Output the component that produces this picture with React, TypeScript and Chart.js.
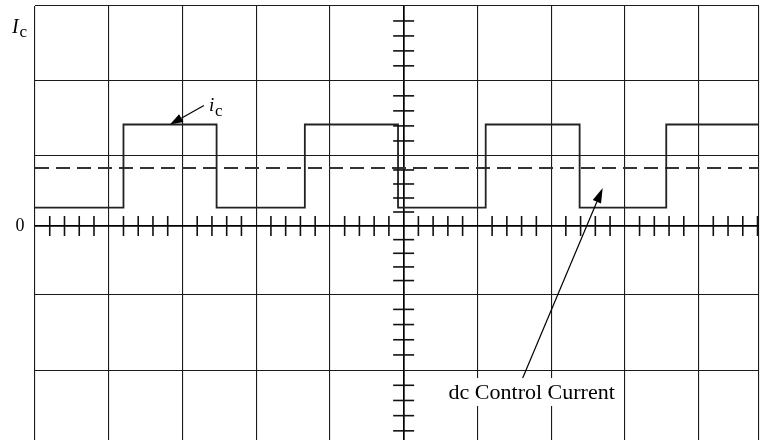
import React, { useEffect, useRef } from 'react';
import { Chart, registerables } from 'chart.js';

Chart.register(...registerables);

// ---- axis / grid values (in scope divisions) ----
const X_GRID = [0, 1, 2, 3, 4, 5, 6, 7, 8, 9];
const X_MAX = 9.82;
const Y_GRID = [3, 1.98, 0.955, 0, -0.93, -1.965];
const Y_MAX = 3;
const Y_MIN = -2.918;
const CENTER_AXIS_X = 5;
const MINOR_PER_DIV = 5;

// ---- waveform i_c (square wave) ----
const IC_LOW = 0.252;
const IC_HIGH = 1.384;
const IC_EDGES = [0, 1.2, 2.463, 3.66, 4.924, 6.113, 7.387, 8.562, 9.82];
const IC_LEVELS = [IC_LOW, IC_HIGH, IC_LOW, IC_HIGH, IC_LOW, IC_HIGH, IC_LOW, IC_HIGH, IC_HIGH];

// ---- dc control current ----
const DC_LEVEL = 0.791;
const DC_X = [0, 9.82];

// ---- annotations ----
const LABEL_ZERO = '0';
const LABEL_AXIS_MAIN = 'I';
const LABEL_AXIS_SUB = 'c';
const LABEL_IC_MAIN = 'i';
const LABEL_IC_SUB = 'c';
const LABEL_DC = 'dc Control Current';
const IC_ARROW_TIP = { x: 1.83, y: IC_HIGH };
const DC_ARROW_TIP = { x: 7.7, y: 0.518 };

const SERIF = '"Liberation Serif", "Times New Roman", serif';

function arrow(ctx: CanvasRenderingContext2D, x1: number, y1: number, x2: number, y2: number, headLen: number, headHalf: number) {
  const ang = Math.atan2(y2 - y1, x2 - x1);
  const bx = x2 - Math.cos(ang) * headLen;
  const by = y2 - Math.sin(ang) * headLen;
  ctx.beginPath();
  ctx.moveTo(x1, y1);
  ctx.lineTo(bx, by);
  ctx.stroke();
  ctx.beginPath();
  ctx.moveTo(x2, y2);
  ctx.lineTo(bx + Math.sin(ang) * headHalf, by - Math.cos(ang) * headHalf);
  ctx.lineTo(bx - Math.sin(ang) * headHalf, by + Math.cos(ang) * headHalf);
  ctx.closePath();
  ctx.fill();
}

const overlay = {
  id: 'overlay',
  afterDatasetsDraw(chart: any) {
    const { ctx, scales } = chart;
    const xs = scales.x;
    const ys = scales.y;
    const x0 = xs.getPixelForValue(CENTER_AXIS_X);
    const y0 = ys.getPixelForValue(0);
    ctx.save();
    ctx.strokeStyle = '#111';
    ctx.fillStyle = '#111';
    ctx.lineWidth = 1.6;

    // minor ticks along zero axis
    for (let k = 0; k < X_GRID.length; k++) {
      const a = X_GRID[k];
      const b = k + 1 < X_GRID.length ? X_GRID[k + 1] : a + 1;
      for (let j = 1; j < MINOR_PER_DIV; j++) {
        const v = a + ((b - a) * j) / MINOR_PER_DIV;
        if (v >= X_MAX) continue;
        const px = xs.getPixelForValue(v);
        ctx.beginPath();
        ctx.moveTo(px, y0 - 10);
        ctx.lineTo(px, y0 + 10);
        ctx.stroke();
      }
    }
    // minor ticks along center vertical axis
    const ySorted = [...Y_GRID].sort((p, q) => q - p);
    const divs: [number, number][] = [];
    for (let k = 0; k + 1 < ySorted.length; k++) divs.push([ySorted[k], ySorted[k + 1]]);
    const last = ySorted[ySorted.length - 1];
    const lastSize = ySorted[ySorted.length - 2] - last;
    divs.push([last, last - lastSize]);
    for (const [a, b] of divs) {
      for (let j = 1; j < MINOR_PER_DIV; j++) {
        const v = a + ((b - a) * j) / MINOR_PER_DIV;
        if (v <= Y_MIN) continue;
        const py = ys.getPixelForValue(v);
        ctx.beginPath();
        ctx.moveTo(x0 - 10.5, py);
        ctx.lineTo(x0 + 10.5, py);
        ctx.stroke();
      }
    }

    // labels
    ctx.fillStyle = '#000';
    ctx.textBaseline = 'middle';
    ctx.textAlign = 'center';
    ctx.font = `18px ${SERIF}`;
    ctx.fillText(LABEL_ZERO, chart.chartArea.left - 15, y0 + 0.5);

    ctx.textBaseline = 'alphabetic';
    ctx.textAlign = 'left';
    const top = chart.chartArea.top;
    ctx.font = `italic 20px ${SERIF}`;
    ctx.fillText(LABEL_AXIS_MAIN, 12, top + 26.5);
    ctx.font = `17px ${SERIF}`;
    ctx.fillText(LABEL_AXIS_SUB, 19.5, top + 31);

    // i_c arrow + label
    ctx.strokeStyle = '#000';
    ctx.fillStyle = '#000';
    ctx.lineWidth = 1.2;
    const itx = xs.getPixelForValue(IC_ARROW_TIP.x);
    const ity = ys.getPixelForValue(IC_ARROW_TIP.y);
    arrow(ctx, itx + 34, ity - 19, itx, ity, 13, 4.5);
    ctx.font = `italic 19px ${SERIF}`;
    ctx.fillText(LABEL_IC_MAIN, itx + 39, ity - 14);
    ctx.font = `17px ${SERIF}`;
    ctx.fillText(LABEL_IC_SUB, itx + 45, ity - 8.5);

    // dc control current label + arrow
    const dtx = xs.getPixelForValue(DC_ARROW_TIP.x);
    const dty = ys.getPixelForValue(DC_ARROW_TIP.y);
    ctx.font = `22px ${SERIF}`;
    const tw = ctx.measureText(LABEL_DC).width;
    const tcx = dtx - 71;
    const tby = dty + 211;
    ctx.fillStyle = '#fff';
    ctx.fillRect(tcx - tw / 2 - 3, tby - 21, tw + 6, 28);
    ctx.fillStyle = '#000';
    ctx.textAlign = 'center';
    ctx.fillText(LABEL_DC, tcx, tby);
    arrow(ctx, dtx - 80, dty + 190, dtx, dty, 15, 4.5);

    ctx.restore();
  },
};

export default function App() {
  const ref = useRef<HTMLCanvasElement>(null);
  useEffect(() => {
    const icData = IC_EDGES.map((x, i) => ({ x, y: IC_LEVELS[i] }));
    const dcData = DC_X.map((x) => ({ x, y: DC_LEVEL }));
    const gridColor = (axisVal: number) => (c: any) => (c.tick && c.tick.value === axisVal ? '#000' : '#1a1a1a');
    const gridWidth = (axisVal: number) => (c: any) => (c.tick && c.tick.value === axisVal ? 1.7 : 1.1);
    const chart = new Chart(ref.current!, {
      type: 'line',
      data: {
        datasets: [
          {
            label: 'ic',
            data: icData,
            stepped: true,
            borderColor: '#222',
            borderWidth: 1.8,
            pointRadius: 0,
            fill: false,
          },
          {
            label: 'dc',
            data: dcData,
            borderColor: '#333',
            borderWidth: 2,
            borderDash: [14, 7],
            pointRadius: 0,
            fill: false,
          },
        ],
      },
      options: {
        responsive: false,
        animation: false,
        devicePixelRatio: 1,
        layout: { padding: { left: 35, top: 6, right: 1, bottom: 0 } },
        plugins: { legend: { display: false }, tooltip: { enabled: false } },
        scales: {
          x: {
            type: 'linear',
            min: 0,
            max: X_MAX,
            afterBuildTicks: (s: any) => {
              s.ticks = [...X_GRID, X_MAX].map((v) => ({ value: v }));
            },
            ticks: { display: false },
            grid: { drawTicks: false, color: gridColor(CENTER_AXIS_X), lineWidth: gridWidth(CENTER_AXIS_X) },
            border: { display: false },
          },
          y: {
            type: 'linear',
            min: Y_MIN,
            max: Y_MAX,
            afterBuildTicks: (s: any) => {
              s.ticks = Y_GRID.map((v) => ({ value: v }));
            },
            ticks: { display: false },
            grid: { drawTicks: false, color: gridColor(0), lineWidth: gridWidth(0) },
            border: { display: false },
          },
        },
      },
      plugins: [overlay],
    });
    return () => chart.destroy();
  }, []);
  return (
    <div style={{ position: 'fixed', left: 0, top: 0, width: 760, height: 440, background: '#fff' }}>
      <canvas ref={ref} width={760} height={440} style={{ display: 'block' }} />
    </div>
  );
}
